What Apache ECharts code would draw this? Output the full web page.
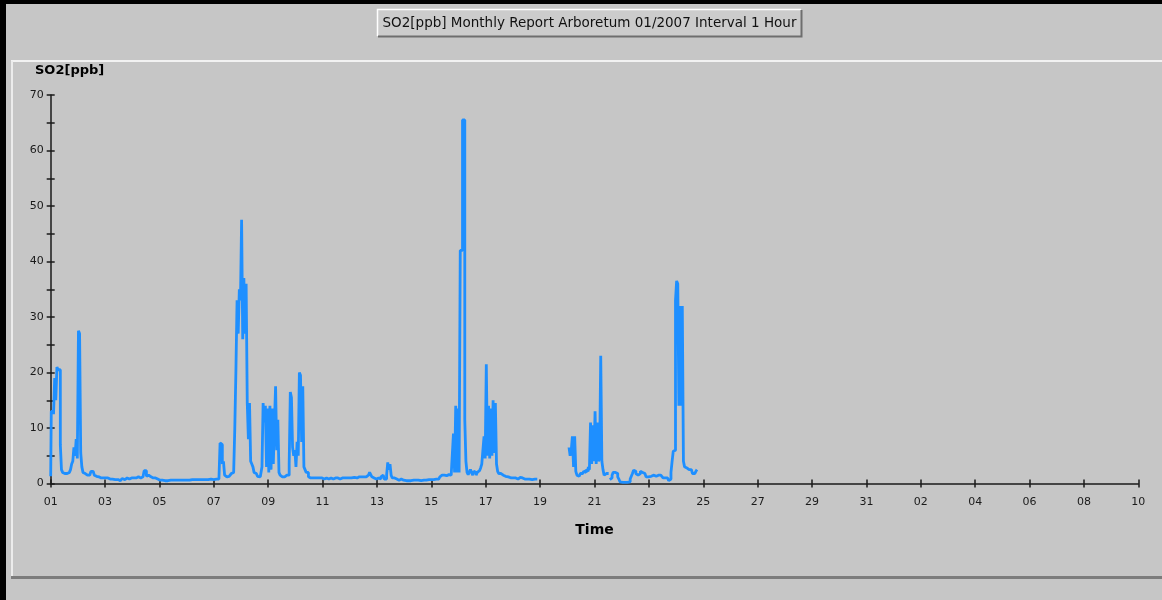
<!DOCTYPE html>
<html>
<head>
<meta charset="utf-8">
<script src="https://cdn.jsdelivr.net/npm/echarts@6/dist/echarts.min.js"></script>
<style>
html,body{margin:0;padding:0;background:#c6c6c6;}
#chart{width:1162px;height:600px;}
</style>
</head>
<body>
<div id="chart"></div>
<script>
// ---- data: hourly SO2 [ppb] values, one array per day (Jan 2007), null = no data ----
const titleText = 'SO2[ppb] Monthly Report Arboretum 01/2007 Interval 1 Hour';
const yTitle = 'SO2[ppb]';
const xTitle = 'Time';
const xTickLabels = ['01','03','05','07','09','11','13','15','17','19','21','23','25','27','29','31','02','04','06','08','10'];

const d01 = [1.3,13,13,12.5,19,15,21,20.5,20.5,7,2.5,2,1.8,1.5,1.8,1.5,2,2.2,2.5,3.5,4,6.5,5,8];
const d02 = [4.5,27.5,27,5.5,3,2,1.8,1.5,1.5,1.5,1.5,1.6,2.2,2.2,2,1.5,1.3,1.5,1.2,1.2,1,1,1,1];
const d03 = [1,1,1,0.9,0.8,0.8,0.8,0.8,0.7,0.7,0.5,0.7,0.8,0.5,0.8,0.9,1,0.7,0.7,1,1,0.8,0.8,1];
const d04 = [1,1,1,1,1,1.2,1,1,1,1.2,1,2.3,2.3,1.3,1.5,1.2,1.2,1.3,1.3,1,1,1,0.8,0.8];
const d05 = [0.6,0.6,0.6,0.6,0.5,0.5,0.3,0.5,0.6,0.6,0.6,0.6,0.6,0.6,0.6,0.8,0.6,0.6,0.6,0.6,0.6,0.6,0.6,0.6];
const d06 = [0.6,0.6,0.6,0.7,0.7,0.7,0.7,0.7,0.7,0.7,0.7,0.7,0.7,0.7,0.7,0.7,0.7,0.7,0.7,0.7,0.7,0.8,0.7,0.7];
const d07 = [0.7,0.7,0.8,0.8,0.8,1,7.3,7,3.5,4,1.5,1.2,1.5,1.3,1.5,1.4,1.8,2,2,10,20.5,33,27,35];
const d08 = [33,47.5,26,37,27,36,14.5,8,14.5,4,3.5,3,2,1.8,1.5,1.3,1.2,1.2,1.2,3,14.5,11,14,3];
const d09 = [13.5,2,14,2.5,13.5,3.5,11,17.5,6,11.5,2,1.5,1.2,1.2,1.3,1.2,1.5,1.2,1.5,3.5,16.5,15.5,6.5,5];
const d10 = [6,3,7.5,5,20,19.5,7.5,17.5,3,2.5,2,2,1.2,1,1,1,1,1,1,1,1,1,1,1];
const d11 = [1,0.9,0.8,0.9,1,0.8,0.8,1,1,0.8,1,1,0.8,1,1,0.8,0.8,1,1,1,1,1,1.2,1];
const d12 = [1,1,1,1.1,1.1,1.2,1,1,1.2,1.2,1.2,1.1,1.2,1.2,1.2,1.3,1.5,1.8,2,1.6,1.2,1,0.8,0.8];
const d13 = [0.8,1,1,0.8,1.2,1.5,1.3,0.8,0.8,1.5,3.8,2.5,3.5,1.5,1,1,0.8,0.8,0.6,0.6,0.8,0.8,0.6,0.6];
const d14 = [0.6,0.5,0.5,0.6,0.5,0.5,0.5,0.6,0.6,0.5,0.5,0.6,0.7,0.6,0.5,0.5,0.6,0.6,0.7,0.7,0.6,0.7,0.7,0.7];
const d15 = [0.7,0.7,0.7,0.8,0.8,0.7,0.8,0.9,1.2,1.3,1.5,1.6,1.5,1.6,1.4,1.6,1.3,1.5,1.3,1.2,9,2,14,2];
const d16 = [13.5,2,42,42,65.5,65.5,11.5,4,2,1.6,1.5,2.5,2,1.5,2.2,2,1.5,2,2.3,2.5,2.8,3.5,6,8.5];
const d17 = [4.5,21.5,5,14,4.5,13.5,5,15,5.5,14.5,3.5,2.2,1.8,1.8,1.5,1.5,1.5,1.3,1.2,1.2,1.2,1,1,1];
const d18 = [1,1,1,0.9,0.9,0.8,1.1,1.3,1,1,0.8,0.9,0.8,0.7,0.8,0.8,0.7,0.7,0.6,0.8,0.8,0.8,null,null];
const d19 = [null,null,null,null,null,null,null,null,null,null,null,null,null,null,null,null,null,null,null,null,null,null,null,null];
const d20 = [null,null,6.5,5,6,8.5,3,8.5,2.2,1.5,1.3,1.5,1.8,1.8,2,2.2,2,2.5,2.2,3,2.5,11,3.5,10.5];
const d21 = [4,13,3.5,11,4,4.5,23,4,2.5,1.5,1.8,1.5,1.8,null,0.7,1,1.5,2,2,2,1.8,1.2,0.8,0.3];
const d22 = [0.2,0.2,0.2,0.2,0.2,0.2,0.2,0.3,0.8,1.3,1.8,2.4,2.2,1.8,1.5,1.5,1.8,2.2,2.3,2,1.8,1.5,1.2,1.2];
const d23 = [1.2,1.3,1.3,1.3,1.5,1.3,1.3,1.5,1.5,1.8,1.5,1.3,1.2,1,1,1,1,0.8,0.5,0.8,2,4,5.8,6];
const d24 = [33,36.5,36,14,32,14,32,4,3,2.8,2.5,2.5,2.8,2.5,2.2,1.8,1.8,1.8,2.2,2.5];

const so2Hourly = [].concat(d01,d02,d03,d04,d05,d06,d07,d08,d09,d10,d11,d12,d13,d14,d15,d16,d17,d18,d19,d20,d21,d22,d23,d24);
// x value = days since 01 Jan 00:00
const seriesData = so2Hourly.map((v, i) => [i / 24, v]);

const chart = echarts.init(document.getElementById('chart'), null, {renderer: 'canvas'});
const axisColor = '#1a1a1a';
const labelFont = {fontFamily: 'DejaVu Sans', fontSize: 11, color: '#1a1a1a'};

chart.setOption({
  animation: false,
  backgroundColor: '#c6c6c6',
  grid: {left: 50.7, right: 23.7, top: 95, bottom: 116.5, containLabel: false},
  xAxis: [
    {
      type: 'value', min: 0, max: 40, interval: 2,
      axisLine: {show: true, onZero: false, lineStyle: {color: axisColor, width: 1.5}},
      axisTick: {show: true, inside: false, length: 4, lineStyle: {color: axisColor, width: 1.5}},
      axisLabel: Object.assign({margin: 13, formatter: v => xTickLabels[Math.round(v / 2)]}, labelFont),
      splitLine: {show: false},
      name: xTitle, nameLocation: 'middle', nameGap: 40,
      nameTextStyle: {fontFamily: 'DejaVu Sans', fontWeight: 'bold', fontSize: 14, color: '#000'}
    },
    {
      type: 'value', min: 0, max: 40, interval: 2, position: 'bottom', offset: 0,
      axisLine: {show: false},
      axisTick: {show: true, inside: true, length: 4, lineStyle: {color: axisColor, width: 1.5}},
      axisLabel: {show: false}, splitLine: {show: false}
    }
  ],
  yAxis: [
    {
      type: 'value', min: 0, max: 70, interval: 10,
      axisLine: {show: true, lineStyle: {color: axisColor, width: 1.5}},
      axisTick: {show: true, inside: false, length: 4, lineStyle: {color: axisColor, width: 1.5}},
      minorTick: {show: true, splitNumber: 2, length: 4, lineStyle: {color: axisColor, width: 1.5}},
      axisLabel: Object.assign({margin: 7}, labelFont),
      splitLine: {show: false}
    },
    {
      type: 'value', min: 0, max: 70, interval: 10, position: 'left', offset: 0,
      axisLine: {show: false},
      axisTick: {show: true, inside: true, length: 4, lineStyle: {color: axisColor, width: 1.5}},
      minorTick: {show: true, splitNumber: 2, length: 4, lineStyle: {color: axisColor, width: 1.5}},
      axisLabel: {show: false}, splitLine: {show: false}
    }
  ],
  graphic: [
    {type: 'rect', shape: {x: 0, y: 0, width: 1162, height: 4}, style: {fill: '#000'}, z: 100},
    {type: 'rect', shape: {x: 0, y: 0, width: 6, height: 600}, style: {fill: '#000'}, z: 100},
    {type: 'line', shape: {x1: 11, y1: 61, x2: 1162, y2: 61}, style: {stroke: '#f2f2f2', lineWidth: 2}, z: 100},
    {type: 'line', shape: {x1: 12, y1: 61, x2: 12, y2: 578}, style: {stroke: '#ececec', lineWidth: 2}, z: 100},
    {type: 'line', shape: {x1: 11, y1: 577.5, x2: 1162, y2: 577.5}, style: {stroke: '#7c7c7c', lineWidth: 3}, z: 100},
    {type: 'rect', shape: {x: 377, y: 9, width: 425, height: 28}, style: {fill: '#cccccc'}, z: 100},
    {type: 'polyline', shape: {points: [[377.5, 36], [377.5, 9.5], [801, 9.5]]}, style: {stroke: '#ffffff', lineWidth: 1.5, fill: null}, z: 101},
    {type: 'polyline', shape: {points: [[378, 36.5], [801.5, 36.5], [801.5, 10]]}, style: {stroke: '#6e6e6e', lineWidth: 2, fill: null}, z: 101},
    {type: 'text', x: 589.5, y: 23, z: 102,
     style: {text: titleText, fontFamily: 'DejaVu Sans', fontSize: 13.5, fill: '#111', align: 'center', verticalAlign: 'middle'}},
    {type: 'text', left: 35, top: 64, z: 102,
     style: {text: yTitle, fontFamily: 'DejaVu Sans', fontWeight: 'bold', fontSize: 13, fill: '#000'}}
  ],
  series: [{
    type: 'line',
    xAxisIndex: 0, yAxisIndex: 0,
    data: seriesData,
    step: 'middle',
    showSymbol: false,
    connectNulls: false,
    sampling: null,
    lineStyle: {color: '#1e8fff', width: 2.8},
    itemStyle: {color: '#1e8fff'},
    z: 5
  }]
});
</script>
</body>
</html>
